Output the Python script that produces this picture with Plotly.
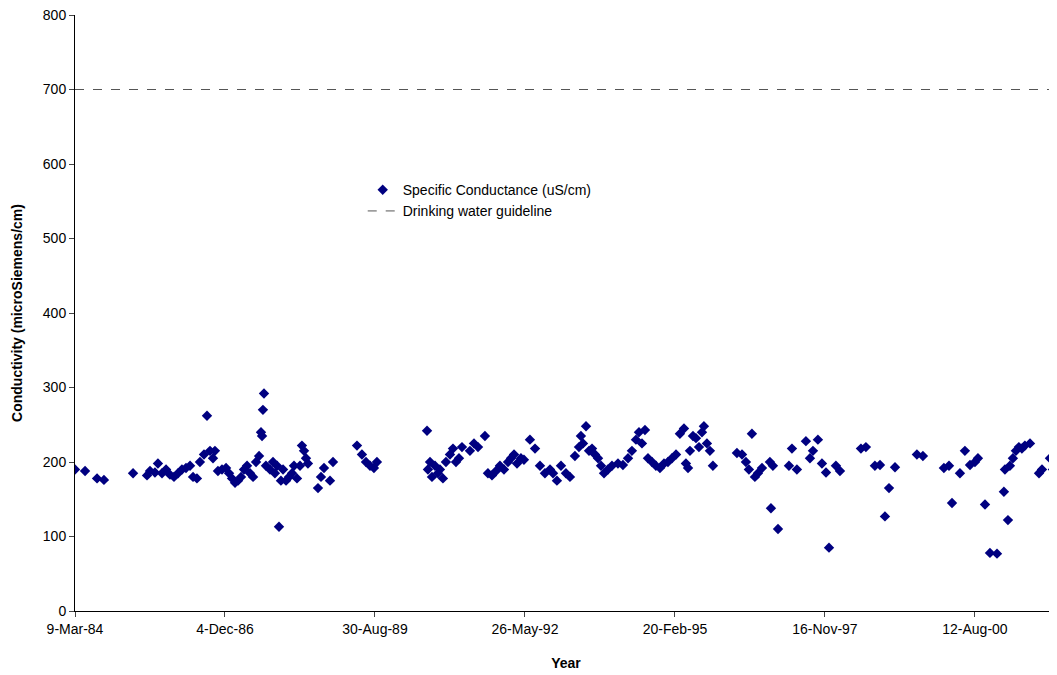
import plotly.graph_objects as go
import pandas as pd

start = pd.Timestamp("1984-03-09")
days = [0,67,147,193,387,480,500,533,553,580,607,633,660,687,713,740,767,787,813,833,860,880,900,920,933,953,980,1007,1027,1047,1067,1087,1107,1127,1147,1167,1187,1207,1227,1240,1247,1253,1260,1273,1300,1320,1333,1347,1360,1373,1387,1407,1427,1447,1460,1480,1500,1513,1527,1540,1553,1620,1640,1660,1700,1720,1880,1913,1940,1967,1993,2013,2347,2353,2367,2380,2400,2420,2433,2453,2473,2500,2520,2540,2560,2580,2633,2660,2687,2733,2753,2780,2807,2833,2860,2887,2907,2927,2947,2973,2993,3033,3067,3100,3133,3167,3187,3213,3240,3273,3300,3333,3360,3373,3387,3407,3427,3447,3467,3487,3507,3527,3553,3580,3620,3653,3687,3713,3740,3760,3780,3800,3820,3847,3873,3900,3927,3953,3980,4007,4033,4060,4073,4087,4100,4120,4140,4160,4180,4193,4213,4233,4253,4413,4447,4473,4493,4513,4533,4553,4580,4633,4640,4653,4687,4760,4780,4813,4873,4900,4920,4953,4980,5007,5027,5073,5100,5240,5273,5333,5367,5400,5427,5467,5613,5653,5793,5827,5847,5900,5933,5967,6000,6020,6067,6100,6147,6193,6200,6220,6233,6253,6273,6293,6313,6333,6367,6427,6447,6500,6520,6547]
cond = [190,188,178,176,185,182,188,186,198,185,190,183,180,185,190,192,195,180,178,200,210,262,215,205,215,188,190,192,185,178,172,175,180,190,195,185,180,200,208,240,235,270,292,195,190,200,185,195,113,175,190,175,180,185,195,178,195,222,215,205,198,165,180,192,175,200,222,210,200,195,192,200,242,190,200,180,195,185,190,178,200,210,218,200,205,220,215,225,220,235,185,182,188,195,190,200,205,210,198,205,203,230,218,195,185,190,185,175,195,185,180,208,220,235,225,248,215,218,210,205,195,185,190,195,198,196,205,215,230,240,225,243,205,200,195,192,198,200,205,210,238,245,198,192,215,235,232,220,240,248,225,215,195,212,210,200,190,238,180,185,192,200,138,195,110,195,218,190,228,205,215,230,198,186,85,195,188,218,220,195,196,127,165,193,210,208,192,195,145,185,215,196,200,205,143,78,77,160,190,122,195,205,215,220,218,222,225,185,190,205,190,135]
guideline = 700
tick_labels = ["9-Mar-84","4-Dec-86","30-Aug-89","26-May-92","20-Feb-95","16-Nov-97","12-Aug-00"]

x = [start + pd.Timedelta(days=d) for d in days]
tickvals = [pd.to_datetime(t, format="%d-%b-%y") for t in tick_labels]
xend = start + pd.Timedelta(days=6547)

fig = go.Figure()
fig.add_trace(go.Scatter(x=x, y=cond, mode="markers", name="Specific Conductance (uS/cm)",
                         marker=dict(symbol="diamond", size=8, color="#000080")))
fig.add_trace(go.Scatter(x=[start, xend], y=[guideline, guideline], mode="lines",
                         name="Drinking water guideline", line=dict(color="#555555", dash="dash", width=1)))
fig.update_layout(
    width=1049, height=667, margin=dict(l=67, r=0, t=7, b=64, autoexpand=False),
    plot_bgcolor="white", paper_bgcolor="white",
    font=dict(family="Liberation Sans, Arial", size=14, color="black"),
    legend=dict(x=0.293, y=0.733, xanchor="left", yanchor="top", bgcolor="rgba(0,0,0,0)",
                font=dict(size=14), tracegroupgap=0),
    xaxis=dict(range=[start, xend], tickvals=tickvals, ticktext=tick_labels, showgrid=False,
               showline=True, linecolor="black", ticks="outside", ticklen=5,
               title=dict(text="<b>Year</b>", font=dict(size=14), standoff=22)),
    yaxis=dict(range=[0, 800], tickvals=[0,100,200,300,400,500,600,700,800], showgrid=False,
               showline=True, linecolor="black", ticks="outside", ticklen=5, zeroline=False,
               ticklabeloverflow="allow",
               title=dict(text="<b>Conductivity (microSiemens/cm)</b>", font=dict(size=14), standoff=16)),
)
fig.write_html("out.html")
